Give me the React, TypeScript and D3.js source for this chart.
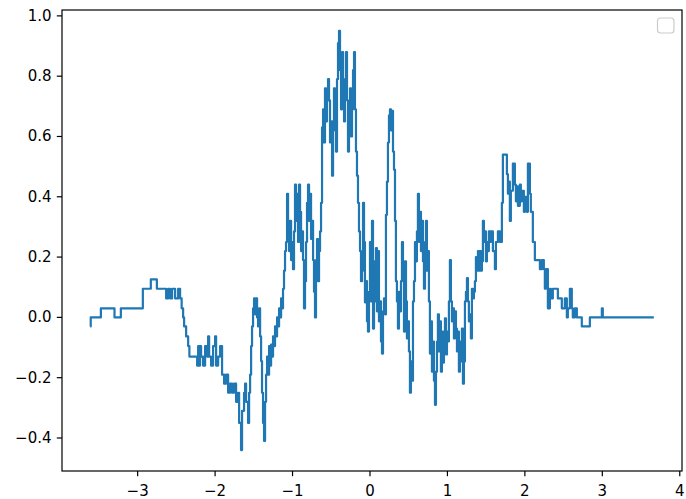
import React from 'react';
import * as d3 from 'd3';

// [x, y] samples, drawn as a step line
const leftFlat: [number, number][] = [
  [-3.613, -0.03], [-3.606, 0], [-3.475, 0.03], [-3.299, 0], [-3.217, 0.03], [-2.933, 0.095],
  [-2.83, 0.126], [-2.752, 0.095], [-2.632, 0.063], [-2.606, 0.095], [-2.581, 0.063], [-2.555, 0.095],
  [-2.516, 0.063], [-2.477, 0.095], [-2.452, 0.063], [-2.432, 0.03], [-2.413, 0], [-2.4, -0.03],
  [-2.374, -0.063], [-2.348, -0.095], [-2.332, -0.13],
];

const firstDip: [number, number][] = [
  [-2.232, -0.16], [-2.219, -0.095], [-2.206, -0.16], [-2.194, -0.095], [-2.181, -0.13], [-2.155, -0.16],
  [-2.129, -0.095], [-2.103, -0.13], [-2.09, -0.063], [-2.077, -0.13], [-2.052, -0.16], [-2.026, -0.095],
  [-2.0, -0.063], [-1.987, -0.16], [-1.961, -0.13], [-1.935, -0.095], [-1.91, -0.19], [-1.884, -0.22],
  [-1.858, -0.19], [-1.832, -0.25], [-1.806, -0.22], [-1.781, -0.25], [-1.755, -0.22], [-1.729, -0.28],
  [-1.703, -0.25], [-1.69, -0.35], [-1.665, -0.44], [-1.652, -0.31], [-1.626, -0.25], [-1.613, -0.22],
  [-1.6, -0.28], [-1.574, -0.35], [-1.561, -0.25], [-1.548, -0.19], [-1.535, -0.095], [-1.523, -0.03],
  [-1.51, 0.03], [-1.497, 0.063], [-1.484, 0.01], [-1.471, 0.063], [-1.458, 0], [-1.445, -0.03],
  [-1.432, 0.03], [-1.419, -0.063], [-1.406, -0.145], [-1.394, -0.25], [-1.381, -0.35], [-1.368, -0.41],
];

const climb: [number, number][] = [
  [-1.355, -0.28], [-1.342, -0.19], [-1.329, -0.13], [-1.316, -0.19], [-1.303, -0.095], [-1.29, -0.16],
  [-1.277, -0.09], [-1.265, -0.13], [-1.252, -0.063], [-1.239, -0.095], [-1.226, -0.03], [-1.213, -0.063],
  [-1.2, 0], [-1.187, -0.03], [-1.174, 0.03], [-1.161, 0], [-1.148, 0.063], [-1.135, 0.03],
  [-1.123, 0.095], [-1.11, 0.155], [-1.097, 0.22], [-1.084, 0.25], [-1.071, 0.41], [-1.058, 0.285],
  [-1.045, 0.22], [-1.032, 0.32], [-1.019, 0.19], [-1.006, 0.25], [-0.994, 0.16], [-0.981, 0.285],
  [-0.968, 0.44], [-0.955, 0.32], [-0.942, 0.41], [-0.929, 0.25], [-0.916, 0.44], [-0.903, 0.35],
  [-0.89, 0.22], [-0.877, 0.285], [-0.865, 0.19], [-0.852, 0.03], [-0.839, 0.12], [-0.826, 0.25],
  [-0.813, 0.38], [-0.8, 0.44], [-0.787, 0.32], [-0.774, 0.41], [-0.761, 0.26], [-0.748, 0.32],
  [-0.735, 0.19], [-0.723, 0.085], [-0.71, 0], [-0.697, 0.19], [-0.684, 0.26], [-0.671, 0.12],
  [-0.658, 0.22], [-0.645, 0.285],
];

const mainPeak: [number, number][] = [
  [-0.632, 0.38], [-0.619, 0.63], [-0.606, 0.69], [-0.594, 0.58], [-0.581, 0.76], [-0.568, 0.65],
  [-0.555, 0.72], [-0.542, 0.79], [-0.529, 0.72], [-0.516, 0.58], [-0.503, 0.65], [-0.49, 0.47],
  [-0.477, 0.62], [-0.465, 0.76], [-0.452, 0.69], [-0.439, 0.55], [-0.426, 0.79], [-0.413, 0.91],
  [-0.4, 0.95], [-0.387, 0.82], [-0.374, 0.69], [-0.361, 0.88], [-0.348, 0.72], [-0.335, 0.65],
  [-0.323, 0.79], [-0.31, 0.88], [-0.297, 0.72], [-0.284, 0.55], [-0.271, 0.65], [-0.258, 0.76],
  [-0.245, 0.6], [-0.232, 0.69], [-0.219, 0.82], [-0.206, 0.88], [-0.194, 0.69], [-0.181, 0.55],
  [-0.168, 0.47], [-0.155, 0.38], [-0.142, 0.285], [-0.129, 0.22], [-0.116, 0.12], [-0.103, 0.155],
  [-0.09, 0.38], [-0.077, 0.25], [-0.065, 0.05], [-0.052, 0.12], [-0.039, -0.013], [-0.026, -0.047],
  [-0.013, 0.085], [0, 0.25],
];

const middle: [number, number][] = [
  [0.013, 0.053], [0.026, 0.32], [0.039, -0.037], [0.052, 0.186], [0.065, 0.053], [0.077, 0.23],
  [0.09, 0.02], [0.103, 0.22], [0.116, -0.013], [0.129, 0.053], [0.142, -0.08], [0.155, -0.12],
  [0.168, 0.02], [0.181, 0.063], [0.194, 0.01], [0.206, 0.34], [0.219, 0.45], [0.232, 0.58],
  [0.245, 0.67], [0.258, 0.69], [0.271, 0.62], [0.284, 0.685], [0.297, 0.55], [0.31, 0.49],
  [0.323, 0.32], [0.335, 0.12], [0.348, 0.053], [0.361, -0.037], [0.374, 0.085], [0.387, 0.02],
  [0.4, 0.12], [0.413, 0.25], [0.426, 0.155], [0.439, -0.047], [0.452, 0.186], [0.465, 0.053],
  [0.477, -0.07], [0.49, -0.013], [0.503, -0.113], [0.516, -0.25], [0.529, -0.146], [0.542, -0.21],
  [0.555, 0.053], [0.568, 0.12], [0.581, 0.25], [0.594, 0.186], [0.606, 0.285], [0.619, 0.41],
  [0.632, 0.25], [0.645, 0.35], [0.658, 0.22], [0.671, 0.32], [0.684, 0.186], [0.697, 0.095],
  [0.71, 0.25], [0.723, 0.32], [0.735, 0.155], [0.748, 0.22], [0.761, 0.053], [0.774, -0.12],
  [0.787, -0.013], [0.8, -0.18], [0.813, -0.08], [0.826, -0.21], [0.839, -0.29], [0.852, -0.18],
  [0.865, -0.08], [0.877, 0.01], [0.89, -0.113], [0.903, -0.013],
];

const secondRise: [number, number][] = [
  [0.916, -0.18], [0.929, -0.047], [0.942, -0.15], [0.955, -0.047], [0.968, -0.003], [0.981, -0.123],
  [0.994, -0.047], [1.006, -0.08], [1.019, 0.053], [1.032, 0.19], [1.045, 0.053], [1.058, -0.013],
  [1.071, 0.03], [1.084, -0.07], [1.097, 0.02], [1.11, -0.037], [1.123, -0.113], [1.135, -0.047],
  [1.148, -0.18], [1.161, -0.08], [1.174, -0.146], [1.187, -0.037], [1.2, -0.22], [1.213, -0.146],
  [1.226, 0.053], [1.239, 0.085], [1.252, 0.13], [1.265, 0.053], [1.277, -0.013], [1.29, 0.01],
  [1.303, -0.07], [1.316, 0.095], [1.329, 0.063], [1.342, 0.085], [1.355, 0.12], [1.368, 0.2],
  [1.381, 0.155], [1.394, 0.22], [1.406, 0.155], [1.419, 0.22], [1.432, 0.155], [1.445, 0.186],
  [1.458, 0.32], [1.471, 0.25], [1.484, 0.285], [1.497, 0.186], [1.51, 0.25], [1.523, 0.22],
  [1.535, 0.285], [1.548, 0.25], [1.561, 0.285], [1.587, 0.22], [1.613, 0.16], [1.626, 0.25],
  [1.652, 0.285], [1.677, 0.25], [1.703, 0.38], [1.716, 0.54], [1.742, 0.54], [1.768, 0.475],
  [1.781, 0.41], [1.794, 0.45], [1.806, 0.32], [1.819, 0.42], [1.845, 0.51], [1.871, 0.44],
  [1.884, 0.385], [1.897, 0.435], [1.91, 0.37], [1.935, 0.44], [1.948, 0.385], [1.961, 0.42],
  [1.987, 0.35], [2.0, 0.4], [2.026, 0.35], [2.039, 0.51], [2.065, 0.41], [2.077, 0.35],
];

const rightTail: [number, number][] = [
  [2.103, 0.25], [2.129, 0.19], [2.194, 0.16], [2.219, 0.19], [2.245, 0.16], [2.258, 0.095],
  [2.271, 0.16], [2.297, 0.03], [2.323, 0.095], [2.335, 0.063], [2.361, 0.095], [2.426, 0.063],
  [2.477, 0.03], [2.516, 0.063], [2.542, 0], [2.555, 0.03], [2.581, 0.095], [2.606, 0.03],
  [2.619, 0], [2.645, 0.03], [2.671, 0], [2.735, -0.03], [2.839, 0], [2.994, 0.03],
  [3.006, 0], [3.665, 0],
];

const xTicks = [-3, -2, -1, 0, 1, 2, 3, 4];
const yTicks = [-0.4, -0.2, 0.0, 0.2, 0.4, 0.6, 0.8, 1.0];

const W = 686;
const H = 499;
const margin = { top: 10, right: 4, bottom: 28, left: 62 };
const font = '"DejaVu Sans", sans-serif';

const App = () => {
  const data = [...leftFlat, ...firstDip, ...climb, ...mainPeak, ...middle, ...secondRise, ...rightTail];

  // matplotlib-style 5% margins around the data
  const [x0, x1] = d3.extent(data, d => d[0]) as [number, number];
  const [y0, y1] = d3.extent(data, d => d[1]) as [number, number];
  const dx = (x1 - x0) * 0.05;
  const dy = (y1 - y0) * 0.05;

  const x = d3.scaleLinear().domain([x0 - dx, x1 + dx]).range([margin.left, W - margin.right]);
  const y = d3.scaleLinear().domain([y0 - dy, y1 + dy]).range([H - margin.bottom, margin.top]);

  const line = d3.line<[number, number]>()
    .x(d => x(d[0]))
    .y(d => y(d[1]))
    .curve(d3.curveStepAfter);

  const fmtX = d3.format('d');
  const fmtY = d3.format('.1f');
  const left = margin.left;
  const right = W - margin.right;
  const top = margin.top;
  const bottom = H - margin.bottom;

  return (
    <div style={{ position: 'absolute', left: 0, top: 0 }}>
      <svg width={W} height={H} style={{ display: 'block', background: '#fff' }}>
        <path d={line(data) || ''} fill="none" stroke="#1f77b4" strokeWidth={2.2} strokeLinejoin="round" strokeLinecap="butt" />

        {/* axes frame */}
        <rect x={left} y={top} width={right - left} height={bottom - top} fill="none" stroke="#000" strokeWidth={1.2} />

        {xTicks.map(t => (
          <g key={'x' + t} transform={`translate(${x(t)},${bottom})`}>
            <line y2={5.2} stroke="#000" strokeWidth={1.2} />
            <text y={20} textAnchor="middle" dominantBaseline="middle" fontFamily={font} fontSize={15} fill="#000">
              {fmtX(t)}
            </text>
          </g>
        ))}

        {yTicks.map(t => (
          <g key={'y' + t} transform={`translate(${left},${y(t)})`}>
            <line x2={-5.2} stroke="#000" strokeWidth={1.2} />
            <text x={-10.5} textAnchor="end" dominantBaseline="central" fontFamily={font} fontSize={15} fill="#000">
              {fmtY(t)}
            </text>
          </g>
        ))}

        {/* empty legend box, upper right */}
        <rect x={657.5} y={18} width={16.5} height={15} rx={3} fill="#fff" fillOpacity={0.8} stroke="#cccccc" strokeWidth={1.2} />
      </svg>
    </div>
  );
};

export default App;
